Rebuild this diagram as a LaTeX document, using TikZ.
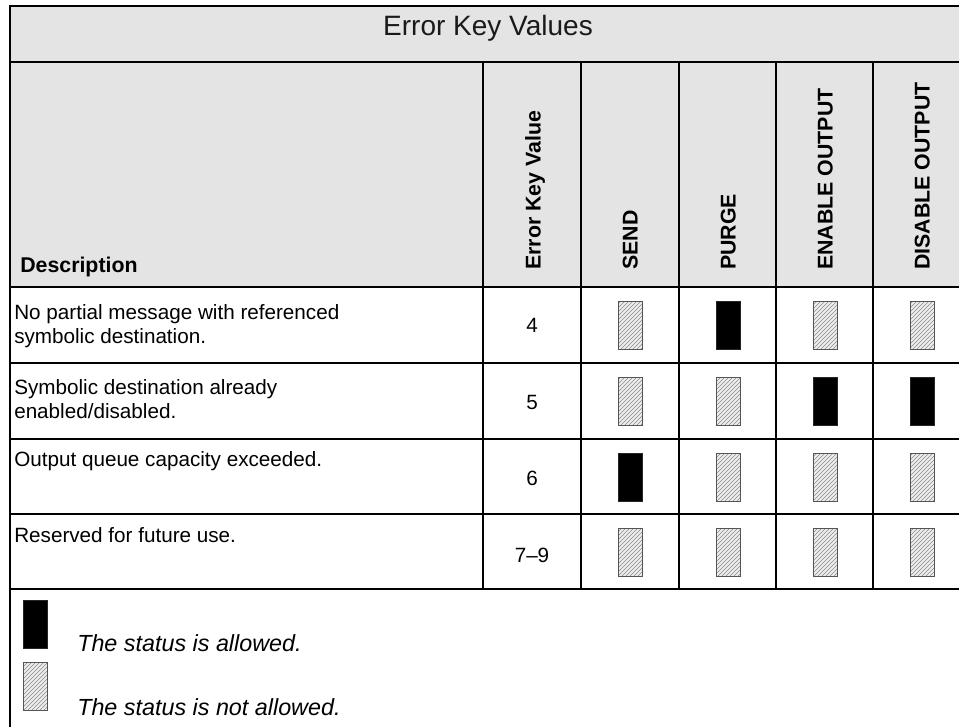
\documentclass[tikz,border=0pt]{standalone}
\usepackage{fontspec}
\setmainfont{Liberation Sans}
\usetikzlibrary{patterns}
\definecolor{hdrgray}{HTML}{E4E4E4}
\definecolor{hatchfill}{HTML}{EEEEEE}
\definecolor{hatchline}{HTML}{8A8A8A}
\definecolor{boxedge}{HTML}{555555}
\definecolor{titletext}{HTML}{1A1A1A}
\begin{document}
\begin{tikzpicture}[x=0.75pt,y=-0.75pt,
  gridline/.style={line width=2.2pt, line cap=rect},
  bodytext/.style={font=\fontsize{15.5}{18}\selectfont, anchor=base west, inner sep=0pt},
  numtext/.style={font=\fontsize{15.5}{18}\selectfont, anchor=base, inner sep=0pt},
  vlabel/.style={font=\bfseries\fontsize{16}{18}\selectfont, rotate=90, anchor=west, inner sep=0pt, text height=11.5pt, text depth=0pt},
  legendtext/.style={font=\itshape\fontsize{17.5}{20}\selectfont, anchor=base west, inner sep=0pt},
  allowbox/.style={fill=black, draw=black!85, line width=0.6pt, minimum width=18pt, minimum height=36pt, inner sep=0pt},
  denybox/.style={draw=boxedge, line width=0.6pt, preaction={fill=hatchfill}, pattern=north east lines, pattern color=hatchline, minimum width=18pt, minimum height=36pt, inner sep=0pt}
]
\useasboundingbox (0,0) rectangle (959,726);
\clip (0,0) rectangle (959,726);
% backgrounds
\fill[white] (0,0) rectangle (959,726);
\fill[hdrgray] (10,6) rectangle (990,287);
% grid
\draw[gridline] (10,6) rectangle (990,780);
\foreach \yy in {62,287,363,439,514,589} \draw[gridline] (10,\yy) -- (990,\yy);
\foreach \xx in {483,581,679,776,873} \draw[gridline] (\xx,62) -- (\xx,589);
% title
\node[font=\fontsize{21}{25}\selectfont, text=titletext, anchor=base, inner sep=0pt] (title) at (488,35) {Error Key Values};
% header
\node[font=\bfseries\fontsize{16}{18}\selectfont, anchor=base west, inner sep=0pt] (hdesc) at (20,272) {Description};
\node[vlabel] (hkey) at (533,270) {Error Key Value};
\node[vlabel] (hsend) at (630,270) {SEND};
\node[vlabel] (hpurge) at (728,270) {PURGE};
\node[vlabel] (henable) at (825,270) {ENABLE OUTPUT};
\node[vlabel] (hdisable) at (922,270) {DISABLE OUTPUT};
% row texts
\node[bodytext] (d1a) at (14,319) {No partial message with referenced};
\node[bodytext] (d1b) at (14,343) {symbolic destination.};
\node[bodytext] (d2a) at (14,394) {Symbolic destination already};
\node[bodytext] (d2b) at (14,418) {enabled/disabled.};
\node[bodytext] (d3) at (14,466) {Output queue capacity exceeded.};
\node[bodytext] (d4) at (14,542) {Reserved for future use.};
\node[numtext] (k1) at (532,332) {4};
\node[numtext] (k2) at (532,409) {5};
\node[numtext] (k3) at (532,485) {6};
\node[numtext] (k4) at (532,562) {7--9};
% status boxes: row 1
\node[denybox]  (r1s) at (630,325) {};
\node[allowbox] (r1p) at (728,325) {};
\node[denybox]  (r1e) at (825,325) {};
\node[denybox]  (r1d) at (922,325) {};
% row 2
\node[denybox]  (r2s) at (630,401) {};
\node[denybox]  (r2p) at (728,401) {};
\node[allowbox] (r2e) at (825,401) {};
\node[allowbox] (r2d) at (922,401) {};
% row 3
\node[allowbox] (r3s) at (630,477) {};
\node[denybox]  (r3p) at (728,477) {};
\node[denybox]  (r3e) at (825,477) {};
\node[denybox]  (r3d) at (922,477) {};
% row 4
\node[denybox]  (r4s) at (630,552) {};
\node[denybox]  (r4p) at (728,552) {};
\node[denybox]  (r4e) at (825,552) {};
\node[denybox]  (r4d) at (922,552) {};
% legend
\node[allowbox] (lga) at (35,624) {};
\node[legendtext] (lgat) at (77,651) {The status is allowed.};
\node[denybox] (lgd) at (35,686) {};
\node[legendtext] (lgdt) at (77,715) {The status is not allowed.};
\end{tikzpicture}
\end{document}
